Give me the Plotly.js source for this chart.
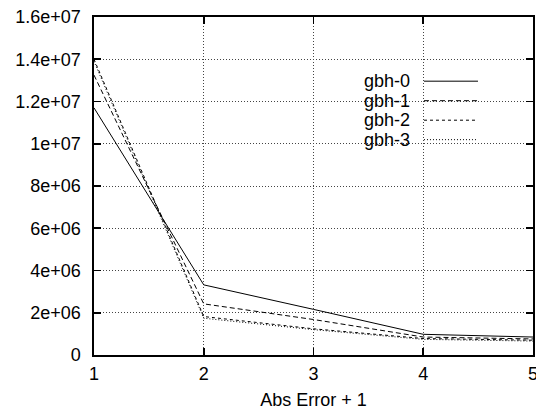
<!DOCTYPE html>
<html>
<head>
<meta charset="utf-8">
<script src="https://cdn.plot.ly/plotly-3.0.1.min.js"></script>
<style>html,body{margin:0;padding:0;background:#fff;}#chart{width:536px;height:410px;}</style>
</head>
<body>
<div id="chart"></div>
<script>
const xValues = [1, 2, 3, 4, 5];
const seriesNames = ["gbh-0", "gbh-1", "gbh-2", "gbh-3"];
const gbh0 = [1.17e7, 3.32e6, 2.16e6, 9.8e5, 8.5e5];
const gbh1 = [1.325e7, 2.42e6, 1.68e6, 8.5e5, 7.6e5];
const gbh2 = [1.40e7, 1.82e6, 1.24e6, 7.8e5, 7.0e5];
const gbh3 = [1.39e7, 1.74e6, 1.20e6, 7.4e5, 6.6e5];
const yTickVals = [0, 2e6, 4e6, 6e6, 8e6, 1e7, 1.2e7, 1.4e7, 1.6e7];
const yTickText = ["0", "2e+06", "4e+06", "6e+06", "8e+06", "1e+07", "1.2e+07", "1.4e+07", "1.6e+07"];
const xTickVals = [1, 2, 3, 4, 5];
const xTickText = ["1", "2", "3", "4", "5"];

const allSeries = [gbh0, gbh1, gbh2, gbh3];
const dashes = ["solid", "5px,3px", "3px,3px", "1px,2px"];

const FONT = "Liberation Sans, Arial, sans-serif";
const FS = 18;
const traces = allSeries.map((ys, i) => ({
  x: xValues, y: ys, type: "scatter", mode: "lines", name: seriesNames[i],
  line: {color: "#000", width: 1, dash: dashes[i]}, showlegend: false
}));

// manual gnuplot-style key (text then line sample)
const keyTextX = 0.7244, keyL = 0.7517, keyR = 0.8747;
const keyY = [0.8101, 0.7524, 0.6947, 0.6371];
const shapes = [{
  type: "rect", xref: "paper", yref: "paper", x0: 0.594, x1: 0.918, y0: 0.60, y1: 0.845,
  fillcolor: "#fff", line: {width: 0}, layer: "between"
}];
const annotations = [];
seriesNames.forEach((n, i) => {
  shapes.push({type: "line", xref: "paper", yref: "paper", x0: keyL, x1: keyR, y0: keyY[i], y1: keyY[i],
    line: {color: "#000", width: 1, dash: dashes[i]}});
  annotations.push({xref: "paper", yref: "paper", x: keyTextX, y: keyY[i], text: n, showarrow: false,
    xanchor: "right", yanchor: "middle", font: {family: FONT, size: FS, color: "#000"}});
});

function axisBase() {
  return {
    showline: true, linecolor: "#000", linewidth: 1.6, mirror: "ticks",
    ticks: "inside", ticklen: 7, tickwidth: 1.6, tickcolor: "#000",
    showgrid: true, gridcolor: "#444", gridwidth: 1, griddash: "1px,2px",
    zeroline: false, ticklabeloverflow: "allow",
    tickfont: {family: FONT, size: FS, color: "#000"}
  };
}

const layout = {
  width: 536, height: 410,
  margin: {l: 94, r: 3, t: 17, b: 55},
  paper_bgcolor: "#fff", plot_bgcolor: "#fff",
  showlegend: false,
  xaxis: Object.assign(axisBase(), {
    range: [1, 5], tickvals: xTickVals, ticktext: xTickText, ticklabelstandoff: 2,
    title: {text: "Abs Error + 1", font: {family: FONT, size: FS, color: "#000"}, standoff: 15}
  }),
  yaxis: Object.assign(axisBase(), {
    range: [0, 1.6e7], tickvals: yTickVals, ticktext: yTickText, ticklabelstandoff: 8
  }),
  shapes: shapes, annotations: annotations
};

Plotly.newPlot("chart", traces, layout, {staticPlot: true, displayModeBar: false});
</script>
</body>
</html>
